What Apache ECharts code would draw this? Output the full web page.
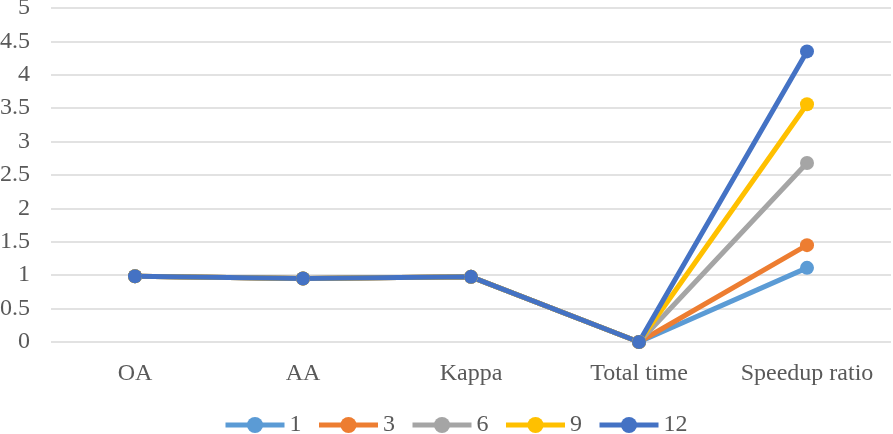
<!DOCTYPE html>
<html><head><meta charset="utf-8">
<script src="https://cdn.jsdelivr.net/npm/echarts@6/dist/echarts.min.js"></script>
<style>html,body{margin:0;padding:0;background:#fff}#c{width:893px;height:434px}</style>
</head><body><div id="c"></div>
<script>
const categories = ['OA', 'AA', 'Kappa', 'Total time', 'Speedup ratio'];
const seriesNames = ['1', '3', '6', '9', '12'];
const s1 = [0.985, 0.95, 0.975, 0.0, 1.11];
const s3 = [0.985, 0.95, 0.975, 0.0, 1.45];
const s6 = [0.985, 0.95, 0.975, 0.0, 2.68];
const s9 = [0.985, 0.95, 0.975, 0.0, 3.56];
const s12 = [0.985, 0.95, 0.975, 0.0, 4.35];
const yTicks = [0, 0.5, 1, 1.5, 2, 2.5, 3, 3.5, 4, 4.5, 5];
const colors = ['#5B9BD5', '#ED7D31', '#A5A5A5', '#FFC000', '#4472C4'];
const allData = [s1, s3, s6, s9, s12];
const font = 'Liberation Serif';
const chart = echarts.init(document.getElementById('c'));
chart.setOption({
  animation: false,
  color: colors,
  grid: {left: 51, right: 2, top: 8, bottom: 92, outerBoundsMode: 'none', containLabel: false},
  legend: {
    bottom: -8, left: 218, itemWidth: 59, itemHeight: 20, itemGap: 15,
    lineStyle: {width: 5},
    textStyle: {fontFamily: font, fontSize: 24, color: '#595959'},
    data: seriesNames
  },
  xAxis: {
    type: 'category', data: categories, boundaryGap: true,
    axisLine: {show: false}, axisTick: {show: false},
    axisLabel: {fontFamily: font, fontSize: 24, color: '#595959', margin: 20, interval: 0, hideOverlap: false}
  },
  yAxis: {
    type: 'value', min: yTicks[0], max: yTicks[yTicks.length-1], interval: 0.5,
    axisLine: {show: false}, axisTick: {show: false},
    splitLine: {lineStyle: {color: '#d9d9d9', width: 1.5}},
    axisLabel: {fontFamily: font, fontSize: 24, color: '#595959', margin: 21}
  },
  series: seriesNames.map((n, i) => ({
    name: n, type: 'line', data: allData[i],
    symbol: 'circle', symbolSize: 14,
    lineStyle: {width: 5, color: colors[i]},
    itemStyle: {color: colors[i]}
  }))
});
</script></body></html>
